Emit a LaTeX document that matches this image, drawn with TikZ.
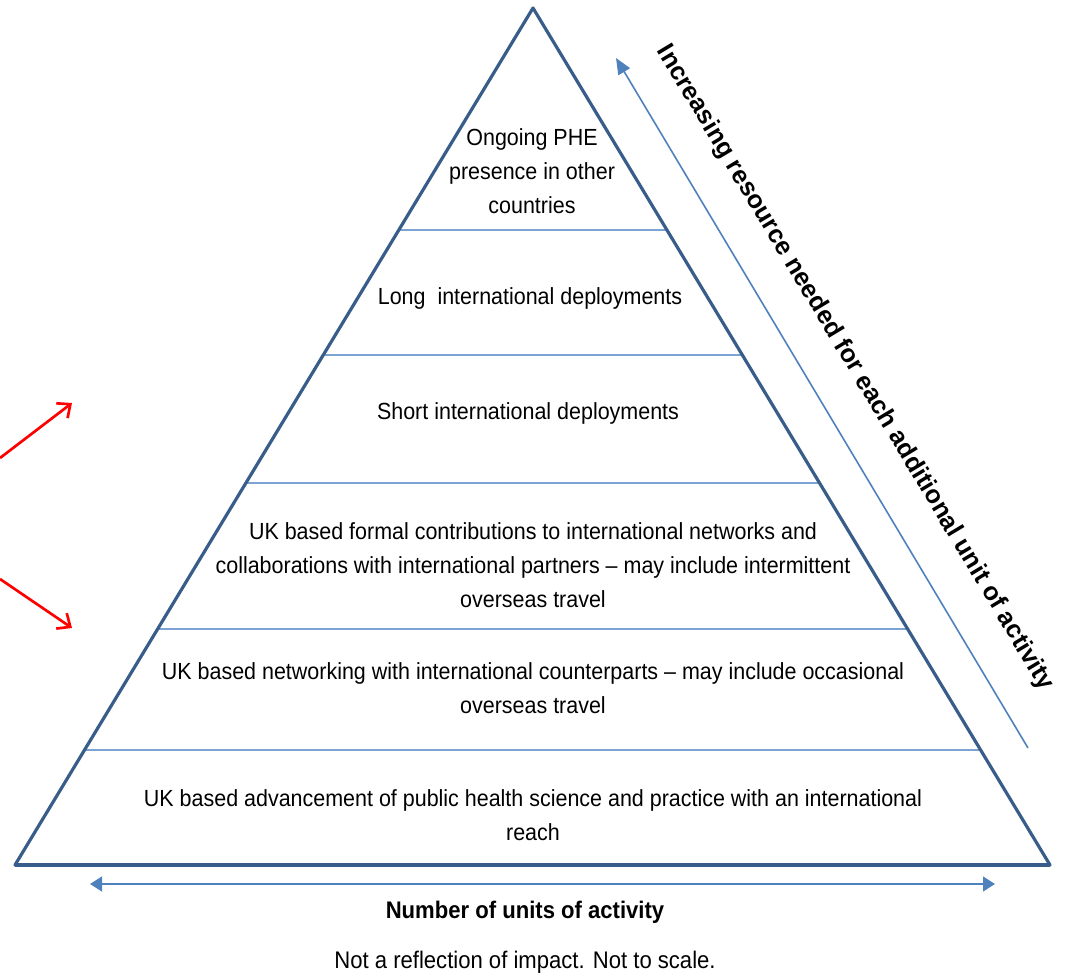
\documentclass[tikz,border=0pt]{standalone}
\usepackage{fontspec}
\setmainfont{Liberation Sans}[FakeStretch=0.92]
\newfontfamily\sidefont{Liberation Sans}
\usetikzlibrary{arrows.meta,calc}
\definecolor{edgeblue}{RGB}{56,93,138}
\definecolor{tierblue}{RGB}{125,163,210}
\definecolor{arrowblue}{RGB}{79,129,189}
\begin{document}
\begin{tikzpicture}[
        x=0.75pt, y=-0.75pt,
        tier/.style={align=center, font=\fontsize{17.5}{25.5}\selectfont, inner sep=0pt},
        divider/.style={draw=tierblue, line width=1.2pt},
        outline/.style={draw=edgeblue, line width=2.4pt, line join=round},
        blue arrow/.style={draw=arrowblue, line width=1.2pt},
        red arrow/.style={draw=red, line width=2pt, -{Straight Barb[length=8pt, width=14pt]}},
    ]
    \useasboundingbox (0,0) rectangle (1067,980);
    \coordinate (apex) at (533,8);
    \coordinate (bl) at (15,865);
    \coordinate (br) at (1050,865);
    % tier dividers
    \foreach \y in {230,355,483,629,750}
        \draw[divider] ($(apex)!{(\y-8)/857}!(bl)$) -- ($(apex)!{(\y-8)/857}!(br)$);
    \draw[outline] (apex) -- (bl) -- (br) -- cycle;
    \draw[draw=edgeblue, line width=3pt] (bl) -- (br);
    % tier labels
    \node[tier] (presence) at (532,171) {Ongoing PHE\\presence in other\\countries};
    \node[tier] (long) at (530,298) {Long\ \ international deployments};
    \node[tier] (short) at (528,413) {Short international deployments};
    \node[tier] (formal) at (533,565) {UK based formal contributions to international networks and\\collaborations with international partners -- may include intermittent\\overseas travel};
    \node[tier] (networking) at (533,688) {UK based networking with international counterparts -- may include occasional\\overseas travel};
    \node[tier] (advancement) at (533,815) {UK based advancement of public health science and practice with an international\\reach};
    % resource arrow
    \coordinate (res foot) at (1028,748);
    \coordinate (res top) at (616,58);
    \draw[blue arrow, -{Triangle[length=12pt, width=10pt]}] (res foot) -- (res top);
    \node[rotate=-59, font=\sidefont\bfseries\fontsize{19}{22}\selectfont] (resource) at (855,368) {Increasing resource needed for each additional unit of activity};
    % units arrow
    \coordinate (span l) at (90,884);
    \coordinate (span r) at (995,884);
    \draw[blue arrow, line width=1.8pt, {Triangle[length=9pt, width=11pt]}-{Triangle[length=9pt, width=11pt]}] (span l) -- (span r);
    \node[font=\bfseries\fontsize{18}{20}\selectfont] (units) at (525,912) {Number of units of activity};
    \node[font=\fontsize{18}{20}\selectfont] (scale) at (525,962) {Not a reflection of impact. Not to scale.};
    % red arrows
    \coordinate (red a) at (0,458);
    \coordinate (red a tip) at (72,403);
    \coordinate (red b) at (0,579);
    \coordinate (red b tip) at (72,628);
    \draw[red arrow] (red a) -- (red a tip);
    \draw[red arrow] (red b) -- (red b tip);
\end{tikzpicture}
\end{document}
